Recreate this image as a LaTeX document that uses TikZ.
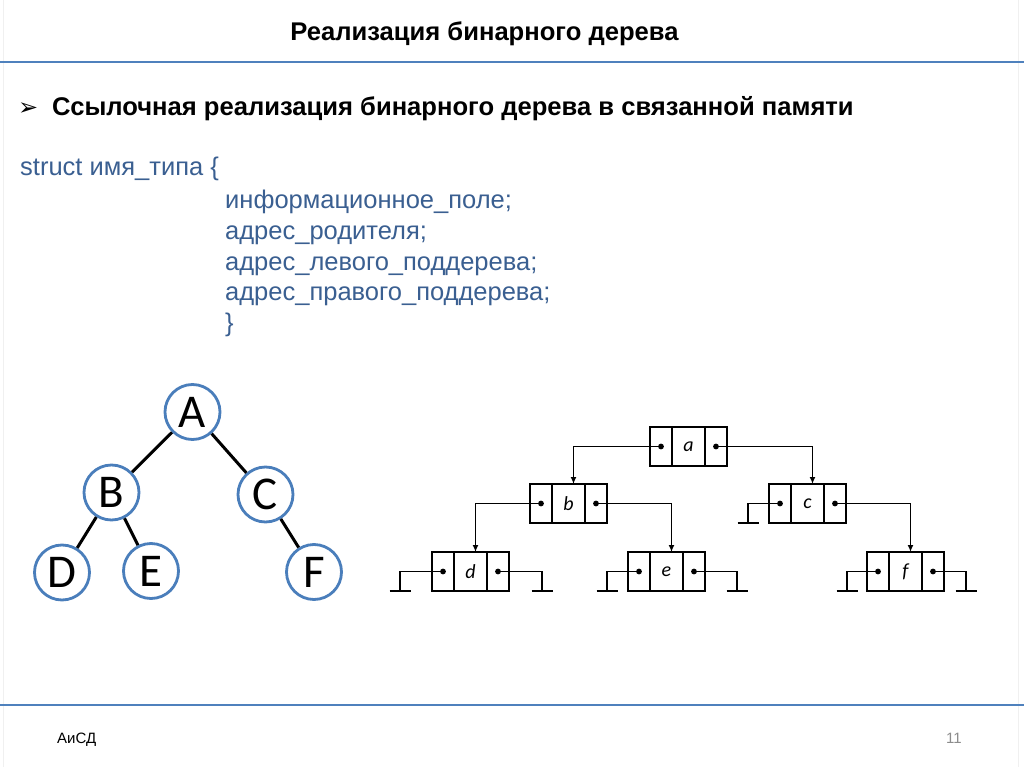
\documentclass[tikz,border=0pt]{standalone}
\usepackage{fontspec}
\setmainfont{Liberation Sans}
\newfontfamily\calib{Carlito}
\newfontfamily\djv{DejaVu Sans}
\usetikzlibrary{arrows.meta}
\definecolor{codeblue}{RGB}{58,95,145}
\definecolor{lineblue}{RGB}{79,129,189}
\definecolor{circblue}{RGB}{74,126,187}
\tikzset{
  rule/.style={draw=lineblue, line width=2.2},
  tcirc/.style={circle, draw=circblue, line width=2.8, minimum size=55, inner sep=0, fill=white,
    font=\calib\fontsize{47}{47}\selectfont},
  tedge/.style={line width=3, black},
  lcell/.style={draw, line width=1.4, minimum width=22, minimum height=39, inner sep=0, outer sep=0},
  mcell/.style={draw, line width=1.4, minimum width=33, minimum height=39, inner sep=0, outer sep=0,
    font=\calib\itshape\fontsize{20}{20}\selectfont},
  ptr/.style={line width=1.6, -{Latex[length=7,width=6]}},
  gnd/.style={line width=1.6},
  code/.style={anchor=base west, text=codeblue, font=\fontsize{25.5}{25.5}\selectfont, inner sep=0},
}
\newcommand\lnode[4]{%
  \node[lcell] (#1l) at (#2,#3) {};
  \node[mcell,anchor=west] (#1m) at (#1l.east) {#4};
  \node[lcell,anchor=west] (#1r) at (#1m.east) {};
  \fill (#1l.center) circle (2.9);
  \fill (#1r.center) circle (2.9);
}
\newcommand\gground[1]{\draw[gnd] ([xshift=-10.5]#1) -- ([xshift=10.5]#1);}
\begin{document}
\begin{tikzpicture}[x=1pt,y=-1pt]
\useasboundingbox (0,0) rectangle (1024,767);
\fill[white] (0,0) rectangle (1024,767);
\draw[black!6, line width=1] (3,0) -- (3,767) (1018,0) -- (1018,767);
% rules
\draw[rule] (0,62) -- (1024,62);
\draw[rule] (0,705) -- (1024,705);
% title
\node[font=\bfseries\fontsize{25.6}{25.6}\selectfont, inner sep=0, anchor=base] (title) at (484.5,41) {Реализация бинарного дерева};
\node[font=\djv\fontsize{24}{24}\selectfont, inner sep=0, anchor=base west] (bul) at (18,116) {➢};
\node[font=\bfseries\fontsize{25.6}{25.6}\selectfont, inner sep=0, anchor=base west] (head) at (52,116) {Ссылочная реализация бинарного дерева в связанной памяти};
% code
\node[code] (c0) at (20,176) {struct имя\_типа \{};
\node[code] (c1) at (225,209) {информационное\_поле;};
\node[code] (c2) at (225,240) {адрес\_родителя;};
\node[code] (c3) at (225,270) {адрес\_левого\_поддерева;};
\node[code] (c4) at (225,300) {адрес\_правого\_поддерева;};
\node[code] (c5) at (225,331) {\}};
% tree
\node[tcirc] (A) at (192.5,412) {A};
\node[tcirc] (B) at (111.5,492.5) {B};
\node[tcirc] (C) at (265.5,494.5) {C};
\node[tcirc] (D) at (62,572.5) {D};
\node[tcirc] (E) at (151,571) {E};
\node[tcirc] (F) at (314,572) {F};
\draw[tedge] (A) -- (B);
\draw[tedge] (A) -- (C);
\draw[tedge] (B) -- (D);
\draw[tedge] (B) -- (E);
\draw[tedge] (C) -- (F);
% linked structure
\lnode{a}{661}{446.5}{a}
\lnode{b}{541}{503.5}{b}
\lnode{c}{780}{503.5}{c}
\lnode{d}{443}{571.5}{d}
\lnode{e}{639}{571.5}{e}
\lnode{f}{878}{571.5}{f}
\draw[ptr] (al.center) -| ([xshift=5]bm.north);
\draw[ptr] (ar.center) -| ([xshift=5]cm.north);
\draw[ptr] (bl.center) -| ([xshift=5]dm.north);
\draw[ptr] (br.center) -| ([xshift=5]em.north);
\draw[ptr] (cr.center) -| ([xshift=5]fm.north);
\coordinate (cg) at (748,523);
\coordinate (dgl) at (400,591);
\coordinate (dgr) at (542,591);
\coordinate (egl) at (607,591);
\coordinate (egr) at (737,591);
\coordinate (fgl) at (847,591);
\coordinate (fgr) at (966,591);
\draw[gnd] (cl.center) -| (cg); \gground{cg}
\draw[gnd] (dl.center) -| (dgl); \gground{dgl}
\draw[gnd] (dr.center) -| (dgr); \gground{dgr}
\draw[gnd] (el.center) -| (egl); \gground{egl}
\draw[gnd] (er.center) -| (egr); \gground{egr}
\draw[gnd] (fl.center) -| (fgl); \gground{fgl}
\draw[gnd] (fr.center) -| (fgr); \gground{fgr}
% footer
\node[font=\fontsize{15}{15}\selectfont, inner sep=0, anchor=base west] (foot) at (57,743) {АиСД};
\node[font=\fontsize{15}{15}\selectfont, text=black!45, inner sep=0, anchor=base east] (num) at (962,743) {11};
\end{tikzpicture}
\end{document}
